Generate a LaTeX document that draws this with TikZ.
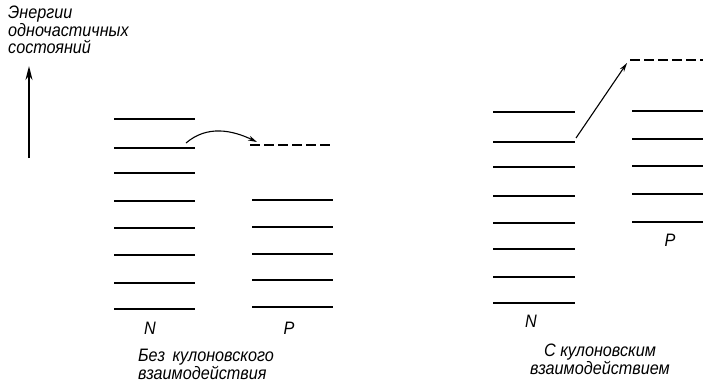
\documentclass[tikz,border=0pt]{standalone}
\usepackage{fontspec}
\setmainfont{Liberation Sans}
\newfontfamily\handfont[FakeStretch=0.9]{Liberation Sans}
\usetikzlibrary{arrows.meta}

\begin{document}
\begin{tikzpicture}[x=1pt, y=-1pt, >={Stealth[length=9pt,width=5pt]},
  level/.style={line width=1.6pt},
  vacant/.style={line width=1.5pt, dash pattern=on 10pt off 4pt},
  jump/.style={->, line width=1.1pt},
  lab/.style={inner sep=0pt, font=\handfont\fontsize{18}{17.5}\selectfont\itshape}]
\useasboundingbox (0,0) rectangle (703,389);

% Energy axis
\coordinate (axbot) at (29,158);
\coordinate (axtop) at (29,66);
\draw[-{Stealth[length=14pt,width=7pt]}, line width=1.6pt] (axbot) -- (axtop);
\node[lab, anchor=north west, align=left] (axname) at (8,6) {Энергии\\одночастичных\\состояний};

% Without Coulomb: neutron levels
\foreach \y in {119,148,173,201,228,255,283,309}
  \draw[level] (114,\y) -- (195,\y);
% proton levels and the empty one
\foreach \y in {200,227,254,280,307}
  \draw[level] (252,\y) -- (333,\y);
\draw[vacant] (250,145) -- (331,145);

% Jump without Coulomb
\coordinate (jumpA) at (186,143);
\coordinate (jumpB) at (257,142);
\draw[jump] (jumpA) .. controls +(21,-18) and +(-25,-12) .. (jumpB);

\node[lab, anchor=base] (nLeft) at (150,334) {N};
\node[lab, anchor=base] (pLeft) at (289,334) {P};
\node[lab, anchor=north west, align=left] (capLeft) at (138,349) {Без\, кулоновского\\взаимодействия};

% With Coulomb: neutron levels
\foreach \y in {112,142,167,196,223,249,277,303}
  \draw[level] (493,\y) -- (575,\y);
% proton levels shifted up
\foreach \y in {111,139,166,194,222}
  \draw[level] (632,\y) -- (706,\y);
\draw[vacant] (630,60) -- (706,60);

% Jump with Coulomb
\coordinate (jumpC) at (576,138);
\coordinate (jumpD) at (627,63);
\draw[jump] (jumpC) -- (jumpD);

\node[lab, anchor=base] (nRight) at (531,327) {N};
\node[lab, anchor=base] (pRight) at (670,246) {P};
\node[lab, anchor=north, align=center] (capRight) at (600,344) {С кулоновским\\взаимодействием};

\end{tikzpicture}
\end{document}
